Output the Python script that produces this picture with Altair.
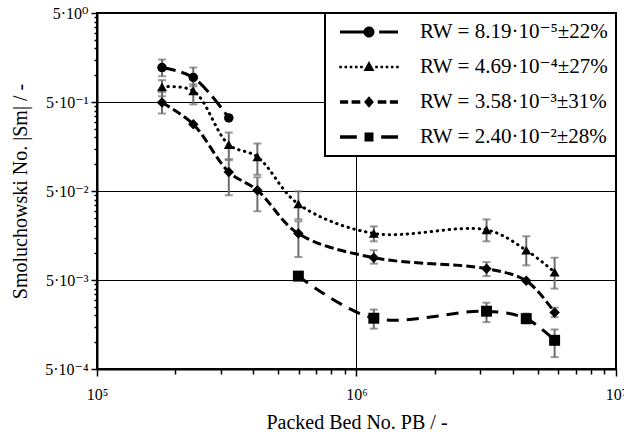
import altair as alt
import pandas as pd

# ---------------- data ----------------
PB = [1.78e5, 2.35e5, 3.22e5, 4.15e5, 5.97e5, 1.166e6, 3.17e6, 4.51e6, 5.80e6]

LABELS = [
    "RW = 8.19·10⁻⁵±22%",
    "RW = 4.69·10⁻⁴±27%",
    "RW = 3.58·10⁻³±31%",
    "RW = 2.40·10⁻²±28%",
]

S1_PB = PB[:3]
S1_SM = [1.22, 0.943, 0.331]
S1_LO = [0.975, 0.75, None]
S1_HI = [1.50, 1.22, None]

S2_PB = PB
S2_SM = [0.739, 0.667, 0.166, 0.121, 0.0357, 0.0167, 0.0183, 0.0108, 0.00613]
S2_LO = [0.58, 0.47, 0.114, 0.076, 0.024, 0.0136, 0.0136, 0.0073, 0.0040]
S2_HI = [0.88, 0.79, 0.227, 0.171, 0.0496, 0.0200, 0.0240, 0.0155, 0.0089]

S3_PB = PB
S3_SM = [0.493, 0.281, 0.0818, 0.0509, 0.0166, 0.0089, 0.0067, 0.00489, 0.00216]
S3_LO = [0.371, None, 0.0448, 0.0296, 0.00905, 0.00763, 0.00553, None, 0.00191]
S3_HI = [0.644, None, 0.111, 0.0713, 0.0228, 0.0108, 0.00795, None, 0.00244]

S4_PB = PB[4:]
S4_SM = [0.00553, 0.00186, 0.00223, 0.00184, 0.00105]
S4_LO = [None, 0.00142, 0.00168, 0.00163, 0.00068]
S4_HI = [None, 0.00233, 0.00278, 0.00210, 0.00139]

X_MAJOR = [1e5, 1e6, 1e7]
X_LABELS = ["10⁵", "10⁶", "10⁷"]
Y_MAJOR = [0.0005, 0.005, 0.05, 0.5, 5.0]
Y_LABELS = ["5·10⁻⁴", "5·10⁻³", "5·10⁻²", "5·10⁻¹", "5·10⁰"]

# ---------------- table ----------------
rows = []
for k, (xs, ys, lo, hi) in enumerate([
    (S1_PB, S1_SM, S1_LO, S1_HI),
    (S2_PB, S2_SM, S2_LO, S2_HI),
    (S3_PB, S3_SM, S3_LO, S3_HI),
    (S4_PB, S4_SM, S4_LO, S4_HI),
]):
    for i in range(len(xs)):
        rows.append({"k": k, "label": LABELS[k], "i": i, "pb": xs[i], "sm": ys[i],
                     "lo": lo[i], "hi": hi[i]})
df = pd.DataFrame(rows)

# ---------------- axes ----------------
x_minor = [float(m * 10 ** e) for e in (5, 6) for m in range(2, 10)]
y_minor = [round(m * 0.0005 * 10 ** e, 10) for e in range(4) for m in range(2, 10)]

x_major_test = " || ".join(f"datum.value == {v:.0f}" for v in X_MAJOR)
y_major_test = " || ".join(f"datum.value == {v}" for v in Y_MAJOR)
x_label_expr = "".join(f"datum.value == {v:.0f} ? '{t}' : " for v, t in zip(X_MAJOR, X_LABELS)) + "''"
y_label_expr = "".join(f"datum.value == {v} ? '{t}' : " for v, t in zip(Y_MAJOR, Y_LABELS)) + "''"

FONT = "'Liberation Serif', 'Times New Roman', 'DejaVu Serif', serif"

x_axis = alt.Axis(
    values=X_MAJOR + x_minor, labelExpr=x_label_expr, labelOverlap=False, labelFlush=False,
    tickSize={"condition": {"test": x_major_test, "value": 7}, "value": 5},
    tickColor="black", tickWidth=1.5, domainColor="black", domainWidth=2,
    grid=True, gridColor="black", gridWidth=1,
    gridOpacity={"condition": {"test": "datum.value == 1000000", "value": 1}, "value": 0},
    labelFont=FONT, labelFontSize=16, labelColor="black", labelPadding=10,
    title="Packed Bed No. PB / -", titleFont=FONT, titleFontSize=20,
    titleFontWeight="normal", titleColor="black", titlePadding=10,
)
y_axis = alt.Axis(
    values=Y_MAJOR + y_minor, labelExpr=y_label_expr, labelOverlap=False, labelFlush=False,
    tickSize={"condition": {"test": y_major_test, "value": 6}, "value": 3},
    tickColor="black", tickWidth=1.5, domainColor="black", domainWidth=2,
    grid=True, gridColor="black", gridWidth=1,
    gridOpacity={"condition": {"test": y_major_test, "value": 1}, "value": 0},
    labelFont=FONT, labelFontSize=16, labelColor="black", labelPadding=3,
    title="Smoluchowski No. |Sm| / -", titleFont=FONT, titleFontSize=20,
    titleFontWeight="normal", titleColor="black", titlePadding=14,
)

x_scale = alt.Scale(type="log", domain=[1e5, 1e7], nice=False)
y_scale = alt.Scale(type="log", domain=[5e-4, 5], nice=False)


def X():
    return alt.X("pb:Q", scale=x_scale, axis=x_axis)


def Y(field="sm"):
    return alt.Y(f"{field}:Q", scale=y_scale, axis=y_axis)


base = alt.Chart(df)
GRAY = "#6e6e6e"

err = base.transform_filter("isValid(datum.lo)")
err_rule = err.mark_rule(color=GRAY, strokeWidth=2).encode(x=X(), y=Y("lo"), y2="hi:Q")
err_lo = err.mark_tick(orient="horizontal", color=GRAY, size=8, thickness=2).encode(x=X(), y=Y("lo"))
err_hi = err.mark_tick(orient="horizontal", color=GRAY, size=8, thickness=2).encode(x=X(), y=Y("hi"))

DASHES = [[14, 6], [0.5, 5.5], [9, 4], [12, 8]]
CAPS = ["butt", "round", "butt", "butt"]
lines = []
for k in range(4):
    lines.append(
        base.transform_filter(f"datum.k == {k}")
        .mark_line(interpolate="catmull-rom", color="black", strokeWidth=3,
                   strokeDash=DASHES[k], strokeCap=CAPS[k])
        .encode(x=X(), y=Y(), order="i:Q")
    )

points = base.mark_point(filled=True, color="black", opacity=1).encode(
    x=X(), y=Y(),
    shape=alt.Shape("k:N", scale=alt.Scale(domain=[0, 1, 2, 3],
                                           range=["circle", "triangle-up", "diamond", "square"]),
                    legend=None),
    size=alt.Size("k:N", scale=alt.Scale(domain=[0, 1, 2, 3], range=[90, 120, 80, 100]),
                  legend=None),
)

# legend glyphs: line pattern with marker, as SVG paths spanning [-1, 1]
def rect(x0, x1, h):
    return f"M{x0},{-h}H{x1}V{h}H{x0}Z"

P1 = rect(-1, -0.1, 0.055) + rect(0.35, 1, 0.055) + \
    "M0.19,0A0.19,0.19,0,1,1,-0.19,0A0.19,0.19,0,1,1,0.19,0Z"
P2 = "".join(rect(s * (0.26 + 0.18 * j) - 0.045, s * (0.26 + 0.18 * j) + 0.045, 0.045)
             for s in (-1, 1) for j in range(5)) + "M0,-0.21L0.19,0.14L-0.19,0.14Z"
P3 = rect(-1, -0.72, 0.06) + rect(-0.6, -0.3, 0.06) + rect(0.3, 0.6, 0.06) + rect(0.72, 1, 0.06) + \
    "M0,-0.2L0.17,0L0,0.2L-0.17,0Z"
P4 = rect(-1, -0.42, 0.06) + rect(0.42, 1, 0.06) + "M-0.155,-0.155H0.155V0.155H-0.155Z"
PATHS = [P1, P2, P3, P4]

legend_layer = base.transform_filter("false").mark_point(filled=True, color="black", opacity=1).encode(
    shape=alt.Shape("label:N", scale=alt.Scale(domain=LABELS, range=PATHS),
                    legend=alt.Legend(
                        title=None, orient="top-right", offset=0, padding=7,
                        fillColor="white", strokeColor="black",
                        symbolSize=3364, symbolStrokeWidth=0, symbolFillColor="black",
                        symbolStrokeColor="black", symbolOffset=8,
                        clipHeight=24, rowPadding=11,
                        labelFont=FONT, labelFontSize=21, labelColor="black",
                        labelOffset=22, labelLimit=0,
                    )),
)

chart = (
    alt.layer(err_rule, err_lo, err_hi, *lines, points, legend_layer)
    .resolve_scale(shape="independent", size="independent")
    .properties(width=519, height=356, background="white",
                autosize=alt.AutoSizeParams(type="none"),
                padding={"left": 97, "top": 13, "right": 8, "bottom": 66})
    .configure_view(stroke="black", strokeWidth=2)
    .configure_legend(strokeWidth=2)
)

chart.save("out.html", embed_options={"renderer": "svg", "actions": False})
